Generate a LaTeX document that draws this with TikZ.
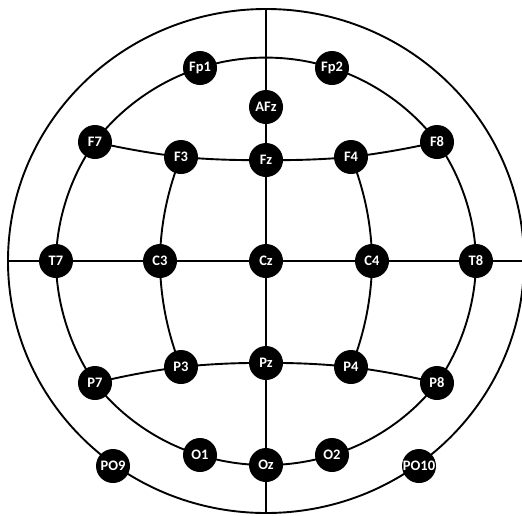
\documentclass[tikz,border=0pt]{standalone}
\usepackage{fontspec}
\setmainfont{Carlito}[BoldFont={Carlito Bold}]
\usetikzlibrary{backgrounds}
\tikzset{
  elec/.style={circle, fill=black, minimum size=34pt, inner sep=0pt,
    text=white, font=\fontsize{14.5}{15}\selectfont\bfseries},
  wire/.style={line width=1.9pt, black},
  arcw/.style={line width=1.9pt, black, looseness=0.85}
}
\begin{document}
\begin{tikzpicture}[x=1pt,y=1pt]
\useasboundingbox (0,0) rectangle (522,-515);
% electrodes
\node[elec] (Fp1) at (200,-68) {Fp1};
\node[elec] (Fp2) at (332,-68) {Fp2};
\node[elec] (AFz) at (266,-107) {AFz};
\node[elec] (F7) at (95,-142) {F7};
\node[elec] (F8) at (437,-142) {F8};
\node[elec] (F3) at (181,-157) {F3};
\node[elec] (Fz) at (266,-160) {Fz};
\node[elec] (F4) at (351,-157) {F4};
\node[elec] (T7) at (56,-261) {T7};
\node[elec] (C3) at (160,-261) {C3};
\node[elec] (Cz) at (266,-261) {Cz};
\node[elec] (C4) at (372,-261) {C4};
\node[elec] (T8) at (476,-261) {T8};
\node[elec] (P7) at (95,-383) {P7};
\node[elec] (P3) at (181,-367) {P3};
\node[elec] (Pz) at (266,-363) {Pz};
\node[elec] (P4) at (351,-367) {P4};
\node[elec] (P8) at (437,-383) {P8};
\node[elec] (O1) at (200,-455) {O1};
\node[elec] (Oz) at (266,-465) {Oz};
\node[elec] (O2) at (332,-455) {O2};
\node[elec] (PO9) at (113,-466) {PO9};
\node[elec] (PO10) at (419,-466) {PO10};
\coordinate (head) at (266,-261);
\coordinate (top) at (266,-9);
\coordinate (bottom) at (266,-513);
\coordinate (left) at (8,-261);
\coordinate (right) at (524,-261);
\begin{pgfonlayer}{background}
% head outline
\draw[wire] (head) ellipse [x radius=258, y radius=252];
% midline and transverse line
\draw[wire] (top) -- (AFz.center) -- (Fz.center) -- (Cz.center) -- (Pz.center) -- (Oz.center) -- (bottom);
\draw[wire] (left) -- (T7.center) -- (C3.center) -- (Cz.center) -- (C4.center) -- (T8.center) -- (right);
% inner ring
\draw[arcw] (Fp1.center) to[bend left=18.5] (Fp2.center)
  to[bend left=18] (F8.center) to[bend left=17.5] (T8.center)
  to[bend left=17.5] (P8.center) to[bend left=18] (O2.center)
  to[bend left=9] (Oz.center) to[bend left=9] (O1.center)
  to[bend left=18] (P7.center) to[bend left=17.5] (T7.center)
  to[bend left=17.5] (F7.center) to[bend left=18] (Fp1.center);
% frontal row
\draw[arcw] (F7.center) to[bend right=3] (F3.center) to[bend right=3] (Fz.center)
  to[bend right=3] (F4.center) to[bend right=3] (F8.center);
% parietal row
\draw[arcw] (P7.center) to[bend left=3.4] (P3.center) to[bend left=3.4] (Pz.center)
  to[bend left=3.4] (P4.center) to[bend left=3.4] (P8.center);
% lateral arcs
\draw[arcw] (F3.center) to[bend right=11] (C3.center) to[bend right=11] (P3.center);
\draw[arcw] (F4.center) to[bend left=11] (C4.center) to[bend left=11] (P4.center);
\end{pgfonlayer}
\end{tikzpicture}
\end{document}
